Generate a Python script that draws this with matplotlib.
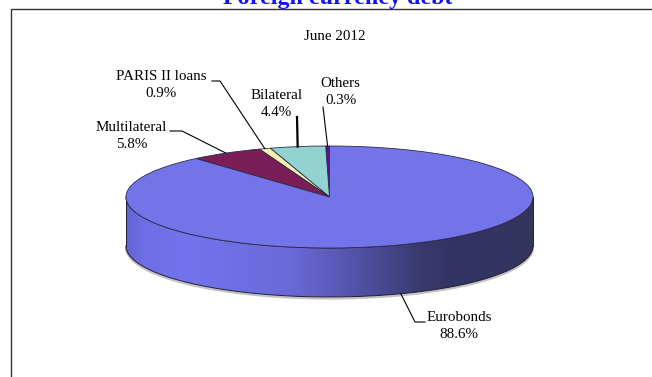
import numpy as np
import matplotlib
matplotlib.use("Agg")
import matplotlib.pyplot as plt
from matplotlib.patches import Polygon
from matplotlib.transforms import Affine2D
from matplotlib.colors import LinearSegmentedColormap

# foreign currency debt composition, June 2012 (share of total, %)
categories = ["Others", "Bilateral", "PARIS II loans", "Multilateral", "Eurobonds"]
shares = [0.3, 4.4, 0.9, 5.8, 88.6]
slice_colors = ["#5a1490", "#92d2d0", "#f4f0b2", "#7b1e57", "#7474ea"]

# label anchor (text centre) and the elbow of each leader line, in pixels from top-left
label_pos = {
    "Others": (340.5, 92),
    "Bilateral": (276.5, 104),
    "PARIS II loans": (161, 85),
    "Multilateral": (131.5, 136),
    "Eurobonds": (459, 326),
}
leader_elbows = {
    "Others": [(323, 107)],
    "Bilateral": [(297, 117)],
    "PARIS II loans": [(212, 81), (220, 81)],
    "Multilateral": [(170, 131), (182, 131)],
    "Eurobonds": [(425, 322), (415, 322)],
}

W, H = 652, 377
CX, CY = 329.5, H - 197      # pie centre
A, B = 203.5, 51.0           # ellipse half-axes
DEPTH = 49.0                 # thickness of the disc

serif = "Liberation Serif"

fig = plt.figure(figsize=(W / 100, H / 100), dpi=100)
ax = fig.add_axes([0, 0, 1, 1])

# top face: ordinary pie squashed into an ellipse
wedges, _ = ax.pie(shares, colors=slice_colors, startangle=90, counterclock=True,
                   radius=1, center=(0, 0),
                   wedgeprops=dict(edgecolor="#2a2a45", linewidth=0.6))
squash = Affine2D().scale(A, B).translate(CX, CY) + ax.transData
for w in wedges:
    w.set_transform(squash)
    w.set_zorder(5)

ax.set_aspect("auto")
ax.set_xlim(0, W)
ax.set_ylim(0, H)
ax.axis("off")

# front wall of the disc (only the Eurobonds slice shows there)
t = np.linspace(np.pi, 2 * np.pi, 200)
top_x, top_y = CX + A * np.cos(t), CY + B * np.sin(t)
bot_y = top_y - DEPTH
wall = np.vstack([np.column_stack([top_x, top_y]),
                  np.column_stack([top_x[::-1], bot_y[::-1]])])
wall_patch = Polygon(wall, closed=True, facecolor="none", edgecolor="none")
ax.add_patch(wall_patch)

wall_cmap = LinearSegmentedColormap.from_list("wall", [
    (0.00, "#6464d2"), (0.04, "#6e6ee6"), (0.15, "#7373ee"), (0.40, "#6a6ad8"),
    (0.52, "#5a5ab8"), (0.62, "#4a4a95"), (0.72, "#3a3a70"), (0.80, "#333365"),
    (1.00, "#35355f")])
grad = np.linspace(0, 1, 400)[None, :]
img = ax.imshow(grad, cmap=wall_cmap, aspect="auto", zorder=3,
                extent=[CX - A, CX + A, CY - B - DEPTH - 2, CY + 2])
img.set_clip_path(wall_patch)

# soft shadow and outline of the wall
ax.plot(top_x, bot_y - 1.5, color="#9a9a9a", lw=1.6, alpha=0.6, zorder=2)
ax.plot(top_x, bot_y, color="#1e1e30", lw=0.7, zorder=4)
ax.plot(top_x, top_y, color="#1e1e30", lw=0.6, zorder=4)
for xe in (CX - A, CX + A):
    ax.plot([xe, xe], [CY, CY - DEPTH], color="#1e1e30", lw=0.7, zorder=4)

# labels and leader lines
cum = np.cumsum([0] + shares[:-1])
for name, start, val in zip(categories, cum, shares):
    mid = np.deg2rad(90 + 3.6 * (start + val / 2))
    px, py = CX + A * np.cos(mid), CY + B * np.sin(mid)
    if np.sin(mid) < 0:
        py -= DEPTH
    pts = [(x, H - y) for x, y in leader_elbows[name]] + [(px, py)]
    xs, ys = zip(*pts)
    lw = 1.6 if name == "Bilateral" else 0.8
    ax.plot(xs, ys, color="black", lw=lw, zorder=6)
    lx, ly = label_pos[name]
    ax.text(lx, H - ly, f"{name}\n{val:.1f}%", ha="center", va="center",
            fontsize=10.8, family=serif, linespacing=1.4, zorder=7)

ax.text(334.5, H - 36, "June 2012", ha="center", va="center",
        fontsize=10.8, family=serif)

# frame around the chart area
ax.plot([11, 11, W + 5], [-5, H - 9, H - 9], color="#333333", lw=1.0,
        clip_on=False, zorder=1)

ax.text(337.5, H - 4, "Foreign currency debt", ha="center", va="baseline",
        fontsize=17.3, fontweight="bold", family=serif, color="#1414f0")

fig.savefig("out.png", dpi=100)
